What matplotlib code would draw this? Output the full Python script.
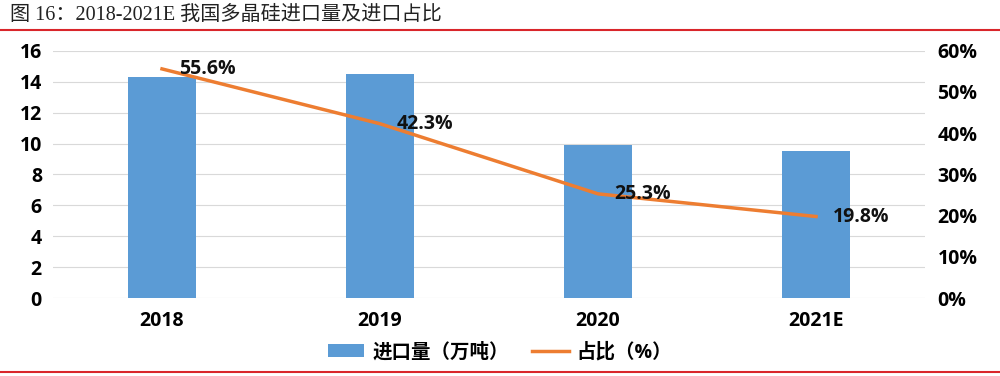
import matplotlib.pyplot as plt
import numpy as np

plt.rcParams['font.family'] = ['Open Sans', 'Noto Sans CJK SC', 'DejaVu Sans']

years = ["2018", "2019", "2020", "2021E"]
import_volume = [14.3, 14.5, 9.9, 9.5]      # 万吨
import_share = [55.6, 42.3, 25.3, 19.8]     # %
left_ticks = [0, 2, 4, 6, 8, 10, 12, 14, 16]
right_ticks = [0, 10, 20, 30, 40, 50, 60]

fig = plt.figure(figsize=(10, 3.76), dpi=100)
fig.patch.set_facecolor("white")

# header and red rules
fig.text(0.01, 0.96, "图 16：2018-2021E 我国多晶硅进口量及进口占比",
         fontsize=14.5, color="#222222", va="center",
         family=['Liberation Serif', 'Noto Sans CJK SC'])
fig.add_artist(plt.Line2D([0, 1], [0.92, 0.92], color="#d9262b", lw=1.5))
fig.add_artist(plt.Line2D([0, 1], [0.011, 0.011], color="#d9262b", lw=1.5))

ax = fig.add_axes([0.053, 0.207, 0.872, 0.658])
x = np.arange(len(years))
bars = ax.bar(x, import_volume, width=0.31, color="#5b9bd5", zorder=2)
ax.set_xlim(-0.5, len(years) - 0.5)
ax.set_ylim(0, 16)
ax.set_yticks(left_ticks)
ax.set_xticks(x)
ax.set_xticklabels(years)
ax.grid(axis="y", color="#d9d9d9", lw=0.8, zorder=0)
for s in ax.spines.values():
    s.set_visible(False)
ax.tick_params(length=0, labelsize=14, pad=8)
ax.tick_params(axis="x", pad=9)
for t in ax.get_xticklabels() + ax.get_yticklabels():
    t.set_fontweight("bold")

ax2 = ax.twinx()
line, = ax2.plot(x, import_share, color="#ed7d31", lw=2.5, zorder=3)
ax2.set_ylim(0, 60)
ax2.set_yticks(right_ticks)
ax2.set_yticklabels([f"{v}%" for v in right_ticks])
for s in ax2.spines.values():
    s.set_visible(False)
ax2.tick_params(length=0, labelsize=14, pad=9)
for t in ax2.get_yticklabels():
    t.set_fontweight("bold")

for xi, v in zip(x, import_share):
    ax2.annotate(f"{v}%", (xi, v), xytext=(12, 0), textcoords="offset points",
                 ha="left", va="center", fontsize=14, fontweight="bold", color="#111111")

fig.legend([bars, line], ["进口量（万吨）", "占比（%）"], loc="center",
           bbox_to_anchor=(0.5, 0.063), ncol=2, frameon=False,
           prop={"size": 14, "weight": "bold"}, handlelength=1.9, handleheight=0.6,
           columnspacing=1.2, handletextpad=0.4)

fig.savefig("out.png", dpi=100, facecolor="white")
